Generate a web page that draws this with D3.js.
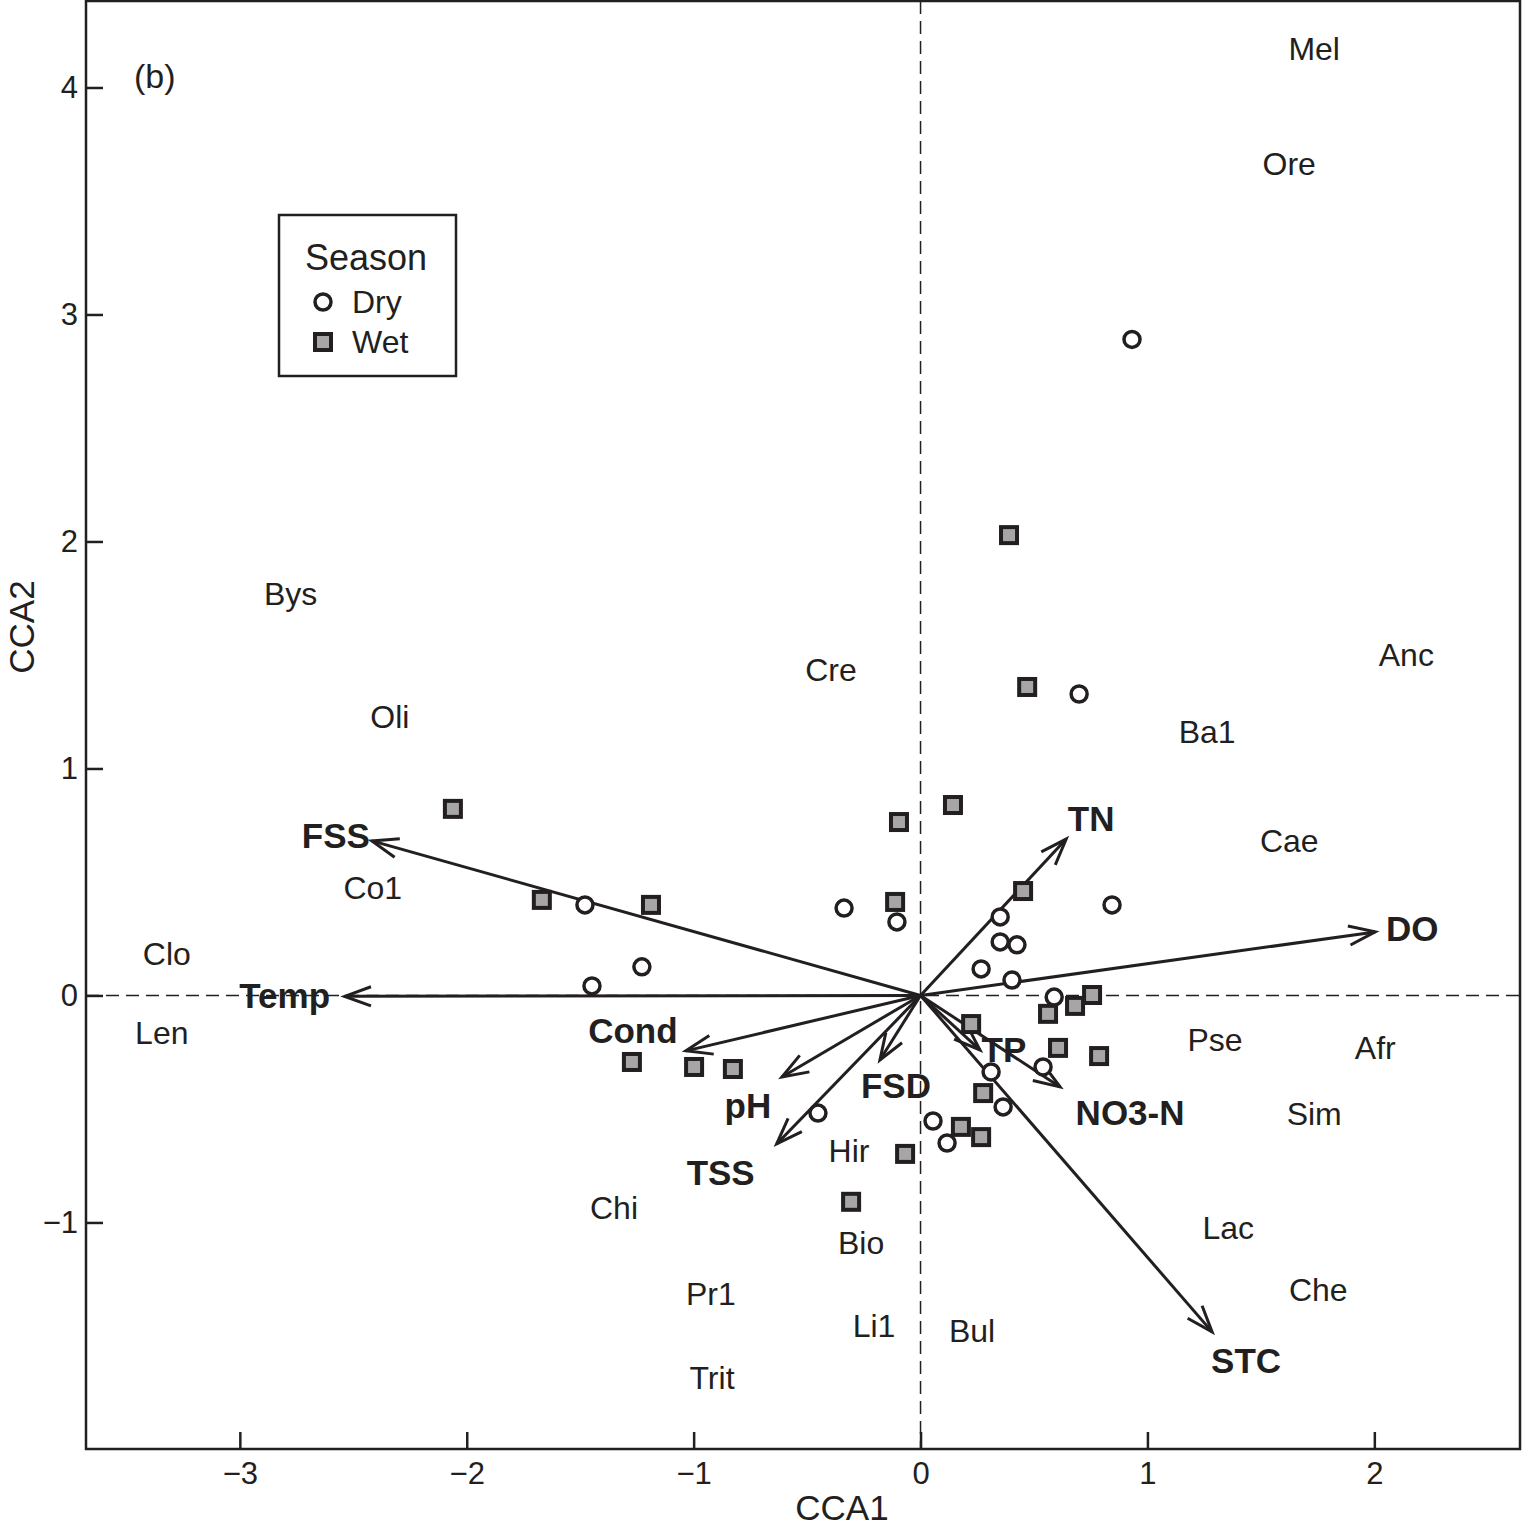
<!DOCTYPE html>
<html><head><meta charset="utf-8">
<script src="https://cdn.jsdelivr.net/npm/d3@7"></script>
<style>body{margin:0;background:#fff} svg{display:block}</style>
</head><body><svg id="c" width="1522" height="1530"></svg>
<script>
// ---- data ----
const xTicks = [-3, -2, -1, 0, 1, 2];
const yTicks = [-1, 0, 1, 2, 3, 4];

const dryCCA1 = [0.932, 0.699, -1.479, -0.337, -0.104, -1.228, -1.448, 0.844, 0.351, 0.351, 0.425, 0.267, 0.403, 0.589, 0.540, 0.311, 0.364, -0.452, 0.055, 0.117];
const dryCCA2 = [2.890, 1.328, 0.399, 0.385, 0.324, 0.126, 0.042, 0.399, 0.346, 0.236, 0.223, 0.117, 0.068, -0.007, -0.315, -0.337, -0.491, -0.518, -0.553, -0.650];

const wetCCA1 = [0.390, 0.470, -2.061, 0.143, -0.095, -1.669, -1.188, -0.112, 0.452, 0.756, 0.681, 0.562, 0.223, 0.606, 0.787, -1.272, -0.998, -0.827, 0.276, 0.178, 0.267, -0.068, -0.306];
const wetCCA2 = [2.028, 1.359, 0.822, 0.839, 0.764, 0.421, 0.399, 0.412, 0.460, 0.002, -0.046, -0.081, -0.126, -0.231, -0.267, -0.293, -0.315, -0.324, -0.430, -0.579, -0.624, -0.698, -0.909];

const species = ["Mel", "Ore", "Bys", "Cre", "Anc", "Oli", "Ba1", "Cae", "Co1", "Clo", "Len", "Pse", "Afr", "Sim", "Hir", "Chi", "Lac", "Bio", "Che", "Pr1", "Li1", "Bul", "Trit"];
const spCCA1 = [1.735, 1.625, -2.776, -0.395, 2.141, -2.339, 1.263, 1.625, -2.414, -3.322, -3.344, 1.298, 2.004, 1.735, -0.315, -1.351, 1.356, -0.262, 1.753, -0.924, -0.205, 0.227, -0.919];
const spCCA2 = [4.174, 3.667, 1.773, 1.434, 1.500, 1.231, 1.161, 0.681, 0.474, 0.187, -0.165, -0.192, -0.227, -0.518, -0.681, -0.932, -1.020, -1.090, -1.297, -1.311, -1.452, -1.478, -1.681];

const envVars = ["FSS", "Temp", "Cond", "pH", "TSS", "FSD", "TP", "NO3-N", "STC", "DO", "TN"];
const envCCA1 = [-2.418, -2.538, -1.034, -0.611, -0.634, -0.179, 0.262, 0.615, 1.285, 2.004, 0.642];
const envCCA2 = [0.681, -0.004, -0.244, -0.359, -0.654, -0.284, -0.240, -0.403, -1.482, 0.280, 0.689];

// ---- layout (pixels) ----
const envLabelOffset = [[-36,-5],[-60,-1],[-53,-20],[-34,28],[-56,28],[16,25],[24,-1],[70,25],[34,29],[37,-4],[25,-21]];

const W = 1522, H = 1530;
const plot = {left: 86, right: 1520, top: 1, bottom: 1449};
const ink = "#231f20";
const FONT = "'Liberation Sans', Arial, Helvetica, sans-serif";

const svg = d3.select("#c").style("font-family", FONT);
svg.append("rect").attr("width", W).attr("height", H).attr("fill", "#fff");

const x = d3.scaleLinear().domain([-3.678, 2.642]).range([plot.left, plot.right]);
const y = d3.scaleLinear().domain([-1.998, 4.381]).range([plot.bottom, plot.top]);

// axes
const xAxis = d3.axisBottom(x).tickValues(xTicks).tickSizeInner(-17).tickSizeOuter(0).tickPadding(13).tickFormat(d3.format(""));
const yAxis = d3.axisLeft(y).tickValues(yTicks).tickSizeInner(-17).tickSizeOuter(0).tickPadding(8).tickFormat(d3.format(""));

const gx = svg.append("g").attr("transform", `translate(0,${plot.bottom})`).call(xAxis);
const gy = svg.append("g").attr("transform", `translate(${plot.left},0)`).call(yAxis);
[gx, gy].forEach(g => {
  g.select(".domain").remove();
  g.selectAll("line").attr("stroke", ink).attr("stroke-width", 2.5);
  g.selectAll("text").attr("fill", ink).style("font-size", "31px").style("font-family", FONT);
});

// frame
svg.append("rect").attr("x", plot.left).attr("y", plot.top)
  .attr("width", plot.right - plot.left).attr("height", plot.bottom - plot.top)
  .attr("fill", "none").attr("stroke", ink).attr("stroke-width", 2.5);

// axis titles
svg.append("text").attr("x", 842).attr("y", 1520).attr("text-anchor", "middle")
  .attr("fill", ink).style("font-size", "35px").text("CCA1");
svg.append("text").attr("transform", `translate(34,627) rotate(-90)`).attr("text-anchor", "middle")
  .attr("fill", ink).style("font-size", "35px").text("CCA2");

// panel label
svg.append("text").attr("x", 134).attr("y", 88).attr("fill", ink).style("font-size", "34px").text("(b)");

// species labels
svg.append("g").selectAll("text").data(species).join("text")
  .attr("x", (d, i) => x(spCCA1[i])).attr("y", (d, i) => y(spCCA2[i]))
  .attr("dy", "0.36em").attr("text-anchor", "middle")
  .attr("fill", ink).style("font-size", "32px").text(d => d);

// arrows
const ox = x(0), oy = y(0);
const arrowG = svg.append("g").attr("stroke", ink).attr("stroke-width", 3).attr("fill", "none");
envVars.forEach((v, i) => {
  const tx = x(envCCA1[i]), ty = y(envCCA2[i]);
  const dx = tx - ox, dy = ty - oy, len = Math.hypot(dx, dy);
  const ux = dx / len, uy = dy / len;
  const L = 28, a = 20 * Math.PI / 180;
  const b1 = [tx - L * (ux * Math.cos(a) - uy * Math.sin(a)), ty - L * (ux * Math.sin(a) + uy * Math.cos(a))];
  const b2 = [tx - L * (ux * Math.cos(a) + uy * Math.sin(a)), ty - L * (-ux * Math.sin(a) + uy * Math.cos(a))];
  arrowG.append("line").attr("x1", ox).attr("y1", oy).attr("x2", tx).attr("y2", ty);
  arrowG.append("path").attr("d", `M${b1[0]},${b1[1]}L${tx},${ty}L${b2[0]},${b2[1]}`).attr("stroke-linejoin", "miter");
});

// env labels
svg.append("g").selectAll("text").data(envVars).join("text")
  .attr("x", (d, i) => x(envCCA1[i]) + envLabelOffset[i][0])
  .attr("y", (d, i) => y(envCCA2[i]) + envLabelOffset[i][1])
  .attr("dy", "0.36em").attr("text-anchor", "middle")
  .attr("fill", ink).style("font-size", "35px").style("font-weight", "bold").text(d => d);

// dashed zero lines
svg.append("line").attr("x1", x(0)).attr("x2", x(0)).attr("y1", plot.top).attr("y2", plot.bottom)
  .attr("stroke", ink).attr("stroke-width", 1.5).attr("stroke-dasharray", "13,7");
svg.append("line").attr("x1", plot.left).attr("x2", plot.right).attr("y1", y(0)).attr("y2", y(0))
  .attr("stroke", ink).attr("stroke-width", 1.5).attr("stroke-dasharray", "13,7");

// sites
const sq = 16;
svg.append("g").selectAll("rect").data(wetCCA1).join("rect")
  .attr("x", (d, i) => x(d) - sq / 2).attr("y", (d, i) => y(wetCCA2[i]) - sq / 2)
  .attr("width", sq).attr("height", sq)
  .attr("fill", "#a6a6a6").attr("stroke", ink).attr("stroke-width", 4);
svg.append("g").selectAll("circle").data(dryCCA1).join("circle")
  .attr("cx", d => x(d)).attr("cy", (d, i) => y(dryCCA2[i])).attr("r", 8)
  .attr("fill", "#fff").attr("stroke", ink).attr("stroke-width", 3.5);

// legend
const lg = svg.append("g");
lg.append("rect").attr("x", 279).attr("y", 215).attr("width", 177).attr("height", 161)
  .attr("fill", "#fff").attr("stroke", ink).attr("stroke-width", 2.5);
lg.append("text").attr("x", 305).attr("y", 270).attr("fill", ink).style("font-size", "36px").text("Season");
lg.append("circle").attr("cx", 323).attr("cy", 302).attr("r", 8).attr("fill", "#fff").attr("stroke", ink).attr("stroke-width", 3.5);
lg.append("text").attr("x", 352).attr("y", 313).attr("fill", ink).style("font-size", "32px").text("Dry");
lg.append("rect").attr("x", 323 - sq / 2).attr("y", 342 - sq / 2).attr("width", sq).attr("height", sq)
  .attr("fill", "#a6a6a6").attr("stroke", ink).attr("stroke-width", 4);
lg.append("text").attr("x", 352).attr("y", 353).attr("fill", ink).style("font-size", "32px").text("Wet");
</script></body></html>
